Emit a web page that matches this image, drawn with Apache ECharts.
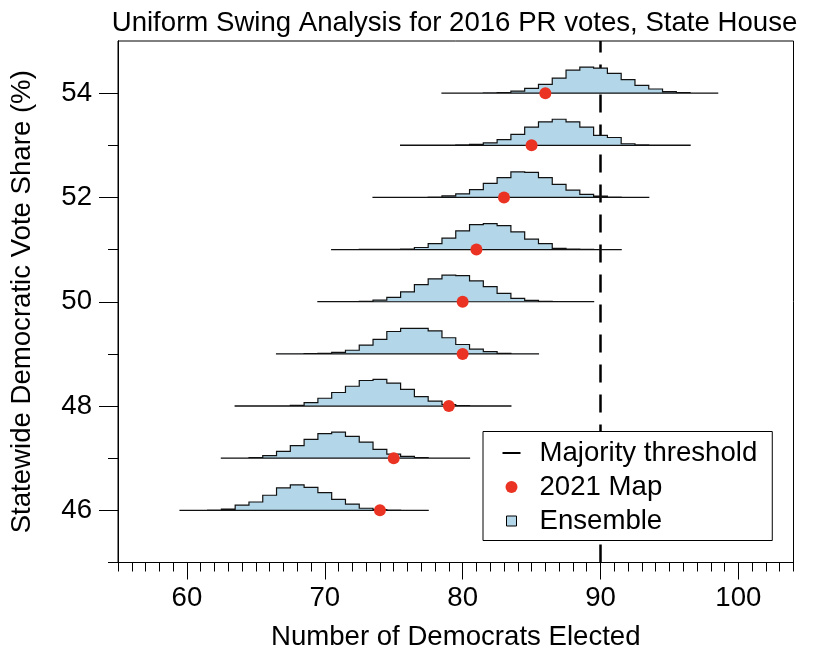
<!DOCTYPE html>
<html><head><meta charset="utf-8">
<script src="https://cdn.jsdelivr.net/npm/echarts@6.0.0/dist/echarts.min.js"></script>
<style>html,body{margin:0;padding:0;background:#fff}#chart{width:830px;height:664px}</style>
</head><body><div id="chart"></div>
<script>
// ---- data ----
const levels = [46, 47, 48, 49, 50, 51, 52, 53, 54];          // statewide Dem vote share (%)
const map2021 = [74, 75, 79, 80, 80, 81, 83, 85, 86];         // seats won by 2021 map
const majorityThreshold = 90;
const binWidth = 1;
const binFirstCenter = [60, 63, 64, 67, 70, 71, 74, 76, 79];  // first bin centre of each ensemble histogram
// histogram heights (in vote-share units above the baseline)
const hist46 = [0.002,0.002,0.005,0.025,0.10,0.16,0.29,0.43,0.49,0.44,0.34,0.21,0.12,0.04,0.012,0.004,0.002,0.002];
const hist47 = [0.002,0.004,0.012,0.05,0.13,0.24,0.36,0.47,0.50,0.42,0.31,0.17,0.08,0.035,0.01,0.004,0.002,0.002];
const hist48 = [0.002,0.002,0.003,0.006,0.015,0.065,0.15,0.26,0.38,0.49,0.51,0.44,0.32,0.18,0.096,0.03,0.01,0.004,0.002,0.002];
const hist49 = [0.002,0.003,0.005,0.01,0.03,0.07,0.17,0.28,0.43,0.49,0.49,0.44,0.31,0.18,0.09,0.045,0.01,0.003,0.002];
const hist50 = [0.002,0.002,0.003,0.006,0.03,0.085,0.19,0.33,0.44,0.51,0.50,0.40,0.29,0.16,0.065,0.025,0.01,0.004,0.002,0.002];
const hist51 = [0.002,0.002,0.003,0.004,0.006,0.01,0.04,0.115,0.22,0.36,0.48,0.50,0.46,0.34,0.20,0.115,0.025,0.01,0.004,0.002,0.002];
const hist52 = [0.002,0.002,0.003,0.004,0.006,0.03,0.07,0.15,0.27,0.38,0.49,0.48,0.38,0.25,0.14,0.06,0.025,0.006,0.002,0.002];
const hist53 = [0.002,0.002,0.003,0.004,0.01,0.02,0.045,0.11,0.21,0.35,0.45,0.50,0.45,0.35,0.19,0.15,0.03,0.01,0.004,0.002,0.002];
const hist54 = [0.002,0.002,0.003,0.006,0.012,0.04,0.09,0.17,0.29,0.44,0.50,0.48,0.38,0.26,0.15,0.08,0.03,0.01,0.003,0.002];
const hists = [hist46, hist47, hist48, hist49, hist50, hist51, hist52, hist53, hist54];
// ticks
const xTickValues = [55,56,57,58,59,60,61,62,63,64,65,66,67,68,69,70,71,72,73,74,75,76,77,78,79,80,81,82,83,84,85,86,87,88,89,90,91,92,93,94,95,96,97,98,99,100,101,102,103,104];
const xLabelValues = [60, 70, 80, 90, 100];
const yTickValues = [45,46,47,48,49,50,51,52,53,54];
const yLabelValues = [46, 48, 50, 52, 54];

// ---- style ----
const FONT = '"Liberation Sans", Arial, Helvetica, sans-serif';
const FS = 27.6;
const FILL = '#b3d7e8';
const RED = '#ea3323';
const legendLinePath = 'path://M0,0M46,14M14,6H32V8H14Z';
const legendDotPath = 'path://M0,0M46,14M17,7a6,6 0 1,0 12,0a6,6 0 1,0 -12,0Z';
const legendBoxPath = 'path://M0,0M46,14M18,2H28V12H18Z';

const chart = echarts.init(document.getElementById('chart'), null, {renderer: 'canvas'});
const axisCommon = {type: 'value', min: 55, max: 104, splitLine: {show: false},
  axisLine: {show: true, lineStyle: {color: '#000', width: 1}}};
const yCommon = {type: 'value', min: 45, max: 55, splitLine: {show: false},
  axisLine: {show: true, lineStyle: {color: '#000', width: 1}}};

const option = {
  animation: false,
  backgroundColor: '#fff',
  textStyle: {fontFamily: FONT},
  title: {
    text: 'Uniform Swing Analysis for 2016 PR votes, State House',
    left: 454.5, top: 9, padding: 0, textAlign: 'center',
    textStyle: {fontFamily: FONT, fontSize: FS, fontWeight: 'normal', color: '#000'}
  },
  grid: {left: 116, right: 36.5, top: 41, bottom: 101.5, show: true, borderColor: '#000', borderWidth: 1, containLabel: false},
  xAxis: [
    Object.assign({}, axisCommon, {position: 'bottom',
      axisTick: {show: true, inside: false, length: 9, customValues: xTickValues, lineStyle: {color: '#000', width: 1}},
      axisLabel: {show: false}}),
    Object.assign({}, axisCommon, {position: 'bottom',
      axisTick: {show: true, inside: false, length: 17, customValues: xLabelValues, lineStyle: {color: '#000', width: 1}},
      axisLabel: {show: true, customValues: xLabelValues, fontSize: FS, color: '#000', margin: 22, fontFamily: FONT},
      name: 'Number of Democrats Elected', nameLocation: 'middle', nameGap: 61,
      nameTextStyle: {fontSize: FS, color: '#000', fontFamily: FONT}})
  ],
  yAxis: [
    Object.assign({}, yCommon, {position: 'left',
      axisTick: {show: true, inside: false, length: 10, customValues: yTickValues, lineStyle: {color: '#000', width: 1}},
      axisLabel: {show: false}}),
    Object.assign({}, yCommon, {position: 'left',
      axisTick: {show: true, inside: false, length: 19, customValues: yLabelValues, lineStyle: {color: '#000', width: 1}},
      axisLabel: {show: true, customValues: yLabelValues, fontSize: FS, color: '#000', margin: 26, fontFamily: FONT},
      name: 'Statewide Democratic Vote Share (%)', nameLocation: 'middle', nameGap: 82,
      nameTextStyle: {fontSize: FS, color: '#000', fontFamily: FONT}})
  ],
  legend: {
    orient: 'vertical', left: 483, top: 431.5, z: 20,
    padding: [7.5, 15, 5.5, 5], itemGap: 6, itemWidth: 46, itemHeight: 14,
    backgroundColor: '#fff', borderColor: '#000', borderWidth: 1, borderRadius: 0,
    selectedMode: false, symbolKeepAspect: true,
    textStyle: {fontSize: FS, color: '#000', fontFamily: FONT},
    data: [
      {name: 'Majority threshold', icon: legendLinePath, itemStyle: {color: '#000', borderWidth: 0}},
      {name: '2021 Map', icon: legendDotPath, itemStyle: {color: RED, borderWidth: 0}},
      {name: 'Ensemble', icon: legendBoxPath, itemStyle: {color: FILL, borderColor: '#000', borderWidth: 1}}
    ]
  },
  series: [
    {
      name: 'Majority threshold', type: 'line', data: [], xAxisIndex: 0, yAxisIndex: 0, z: 1,
      lineStyle: {color: '#000'}, itemStyle: {color: '#000'},
      markLine: {
        silent: true, z: 1, symbol: ['none', 'none'], label: {show: false},
        lineStyle: {color: '#000', width: 2.5, type: [18, 12], dashOffset: 0},
        emphasis: {disabled: true},
        data: [{xAxis: majorityThreshold}]
      }
    },
    {
      name: 'Ensemble', type: 'custom', xAxisIndex: 0, yAxisIndex: 0, z: 2,
      itemStyle: {color: FILL},
      data: levels.map((l, i) => [binFirstCenter[i], l]),
      encode: {x: 0, y: 1},
      renderItem: function (params, api) {
        const i = params.dataIndex;
        const base = levels[i];
        const h = hists[i];
        const c0 = binFirstCenter[i];
        const pts = [api.coord([c0 - binWidth / 2, base])];
        for (let k = 0; k < h.length; k++) {
          const lo = c0 + k * binWidth - binWidth / 2;
          pts.push(api.coord([lo, base + h[k]]));
          pts.push(api.coord([lo + binWidth, base + h[k]]));
        }
        pts.push(api.coord([c0 + h.length * binWidth - binWidth / 2, base]));
        return {type: 'polygon', shape: {points: pts},
          style: {fill: FILL, stroke: '#111', lineWidth: 1.2, lineJoin: 'miter'}};
      }
    },
    {
      name: '2021 Map', type: 'scatter', xAxisIndex: 0, yAxisIndex: 0, z: 3,
      symbol: 'circle', symbolSize: 12,
      itemStyle: {color: RED, borderWidth: 0, opacity: 1},
      data: map2021.map((x, i) => [x, levels[i]])
    }
  ]
};
chart.setOption(option);
</script></body></html>
